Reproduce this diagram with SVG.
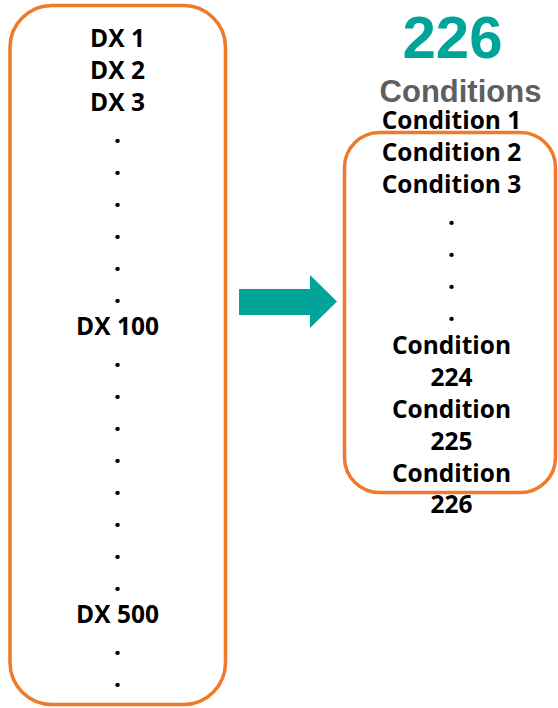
<svg xmlns="http://www.w3.org/2000/svg" width="558" height="708" viewBox="0 0 558 708">
  <style>
    .box { fill: #ffffff; stroke: #F07A2C; stroke-width: 3.5; }
    .item { font-family: "Open Sans", Lato, "Liberation Sans", sans-serif; font-weight: bold; font-size: 24.5px; fill: #000000; text-anchor: middle; font-variant-ligatures: none; }
    .big { font-family: "Liberation Sans", Arial, sans-serif; font-weight: bold; text-anchor: middle; }
  </style>
  <rect width="558" height="708" fill="#ffffff"/>

  <!-- diagnosis codes list -->
  <g id="dx-list">
    <rect class="box" x="10" y="5.5" width="215.5" height="699" rx="42" ry="42"/>
    <text class="item" x="117.5" y="47">DX 1</text>
    <text class="item" x="117.5" y="79">DX 2</text>
    <text class="item" x="117.5" y="111">DX 3</text>
    <text class="item" x="117.5" y="143">.</text>
    <text class="item" x="117.5" y="175">.</text>
    <text class="item" x="117.5" y="207">.</text>
    <text class="item" x="117.5" y="239">.</text>
    <text class="item" x="117.5" y="271">.</text>
    <text class="item" x="117.5" y="303">.</text>
    <text class="item" x="117.5" y="335">DX 100</text>
    <text class="item" x="117.5" y="367">.</text>
    <text class="item" x="117.5" y="399">.</text>
    <text class="item" x="117.5" y="431">.</text>
    <text class="item" x="117.5" y="463">.</text>
    <text class="item" x="117.5" y="495">.</text>
    <text class="item" x="117.5" y="527">.</text>
    <text class="item" x="117.5" y="559">.</text>
    <text class="item" x="117.5" y="591">.</text>
    <text class="item" x="117.5" y="623">DX 500</text>
    <text class="item" x="117.5" y="655">.</text>
    <text class="item" x="117.5" y="687">.</text>
  </g>

  <!-- mapping arrow -->
  <g id="connectors">
    <polygon fill="#00A499" points="239,289 310,289 310,275 337,301.5 310,328 310,315 239,315"/>
  </g>

  <!-- condition heading -->
  <g id="heading">
    <text class="big" x="452.5" y="58" font-size="60" fill="#00A499">226</text>
    <text class="big" x="460.5" y="102" font-size="31" fill="#5F5F5F">Conditions</text>
  </g>

  <!-- condition list -->
  <g id="condition-list">
    <rect class="box" x="344.5" y="132.5" width="211" height="360" rx="35" ry="35"/>
    <text class="item" x="451.5" y="129">Condition 1</text>
    <text class="item" x="451.5" y="161">Condition 2</text>
    <text class="item" x="451.5" y="193">Condition 3</text>
    <text class="item" x="451.5" y="225">.</text>
    <text class="item" x="451.5" y="257">.</text>
    <text class="item" x="451.5" y="289">.</text>
    <text class="item" x="451.5" y="321">.</text>
    <text class="item" x="451.5" y="354">Condition</text>
    <text class="item" x="451.5" y="386">224</text>
    <text class="item" x="451.5" y="418">Condition</text>
    <text class="item" x="451.5" y="450">225</text>
    <text class="item" x="451.5" y="482">Condition</text>
    <text class="item" x="451.5" y="513">226</text>
  </g>
</svg>
